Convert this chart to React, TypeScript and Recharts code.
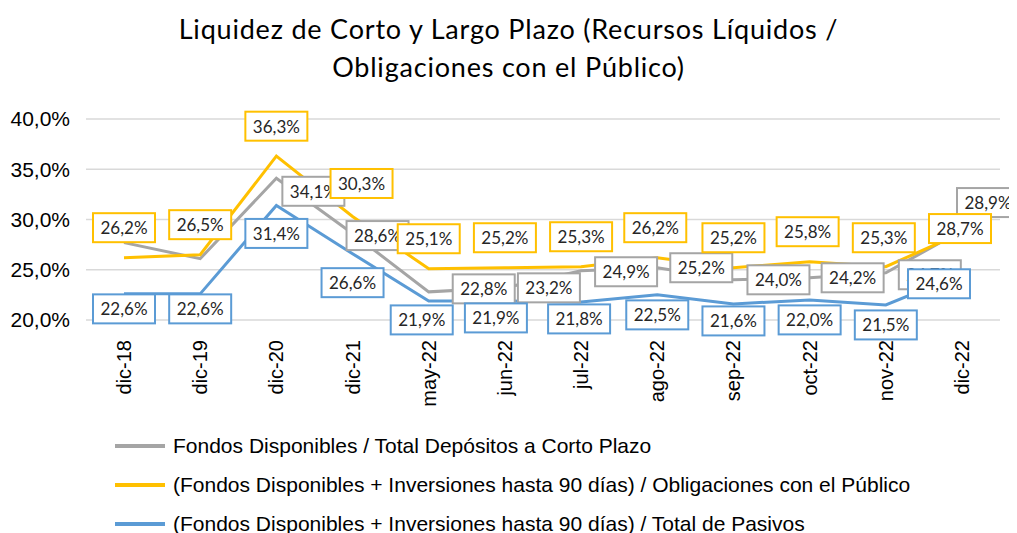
import React from "react";
import {
  LineChart,
  Line,
  CartesianGrid,
  XAxis,
  YAxis,
  Legend,
  LabelList,
} from "recharts";

const categories = [
  "dic-18", "dic-19", "dic-20", "dic-21", "may-22", "jun-22",
  "jul-22", "ago-22", "sep-22", "oct-22", "nov-22", "dic-22",
];

// Fondos Disponibles / Total Depósitos a Corto Plazo
const grayValues = [27.7, 26.1, 34.1, 28.6, 22.8, 23.2, 24.9, 25.2, 24.0, 24.2, 24.7, 28.9];
// (Fondos Disponibles + Inversiones hasta 90 días) / Obligaciones con el Público
const yellowValues = [26.2, 26.5, 36.3, 30.3, 25.1, 25.2, 25.3, 26.2, 25.2, 25.8, 25.3, 28.7];
// (Fondos Disponibles + Inversiones hasta 90 días) / Total de Pasivos
const blueValues = [22.6, 22.6, 31.4, 26.6, 21.9, 21.9, 21.8, 22.5, 21.6, 22.0, 21.5, 24.6];

const yTicks = [20, 25, 30, 35, 40];

const GRAY = "#A5A5A5";
const YELLOW = "#FFC000";
const BLUE = "#5B9BD5";

const series = [
  { key: "gray", name: "Fondos Disponibles / Total Depósitos a Corto Plazo", color: GRAY },
  { key: "yellow", name: "(Fondos Disponibles + Inversiones hasta 90 días) / Obligaciones con el Público", color: YELLOW },
  { key: "blue", name: "(Fondos Disponibles + Inversiones hasta 90 días) / Total de Pasivos", color: BLUE },
];

// label nudges (dx, dy) from the point, like the hand-placed excel labels; null = hidden
const grayNudge: ([number, number] | null)[] = [
  null, null, [37, 13], [25, 2], [55, -3], [44, 0], [45, 1], [44, 0], [45, 0], [43, 0], [44, 2], [26, -28],
];
const yellowNudge: ([number, number] | null)[] = [
  [0, -30], [0, -30], [0, -30], [9, -33], [0, -30], [0, -30], [0, -30], [-2, -30], [0, -30], [-2, -30], [-2, -29], [-2, -4],
];
const blueNudge: ([number, number] | null)[] = [
  [0, 15], [0, 15], [0, 28], [0, 29], [-7, 19], [-9, 17], [-2, 17], [0, 20], [0, 17], [0, 20], [0, 20], [-23, 10],
];

const data = categories.map((cat, i) => ({
  cat,
  gray: grayValues[i],
  yellow: yellowValues[i],
  blue: blueValues[i],
}));

const fmt = (v: number) => v.toFixed(1).replace(".", ",") + "%";

const makeLabel = (color: string, nudges: ([number, number] | null)[]) => (props: any) => {
  const { x, y, value, index } = props;
  const n = nudges[index];
  if (!n || value == null) return null;
  const cx = Number(x) + n[0];
  const cy = Number(y) + n[1];
  return (
    <g>
      <rect x={cx - 31} y={cy - 14.5} width={62} height={29} fill="#fff" stroke={color} strokeWidth={2} />
      <text
        x={cx}
        y={cy}
        textAnchor="middle"
        dominantBaseline="central"
        fontFamily="Lato, 'Liberation Sans', sans-serif"
        fontSize={17}
        fill="#262626"
      >
        {fmt(Number(value))}
      </text>
    </g>
  );
};

const XTick = (props: any) => {
  const { x, y, payload } = props;
  return (
    <text
      transform={`translate(${x},${y + 12}) rotate(-90)`}
      textAnchor="end"
      dominantBaseline="central"
      fontFamily="'Liberation Sans', Arial, sans-serif"
      fontSize={20}
      fill="#000"
    >
      {payload.value}
    </text>
  );
};

const LegendContent = () => (
  <div style={{ fontFamily: "'Liberation Sans', Arial, sans-serif", fontSize: 21, color: "#000" }}>
    {series.map((s) => (
      <div key={s.key} style={{ display: "flex", alignItems: "center", height: 39, whiteSpace: "nowrap" }}>
        <span style={{ display: "inline-block", width: 50, height: 4, background: s.color, marginRight: 8 }} />
        {s.name}
      </div>
    ))}
  </div>
);

export default function App() {
  return (
    <div style={{ position: "relative", width: 1001, height: 525, overflow: "hidden" }}>
      <div
        style={{
          position: "absolute",
          top: 2,
          left: 0,
          width: 1001,
          textAlign: "center",
          fontFamily: "Lato, 'Open Sans', sans-serif",
          fontSize: 27,
          letterSpacing: 0.8,
          lineHeight: "38px",
          color: "#000",
          zIndex: 2,
        }}
      >
        Liquidez de Corto y Largo Plazo (Recursos Líquidos /
        <br />
        Obligaciones con el Público)
      </div>
      <LineChart
        width={1001}
        height={525}
        data={data}
        margin={{ top: 111, right: 9, left: 0, bottom: 113 }}
      >
        <CartesianGrid vertical={false} stroke="#D9D9D9" strokeWidth={1.5} />
        <XAxis
          dataKey="cat"
          interval={0}
          axisLine={false}
          tickLine={false}
          height={100}
          padding={{ left: 38, right: 38 }}
          tick={<XTick />}
        />
        <YAxis
          domain={[20, 40]}
          ticks={yTicks}
          width={78}
          axisLine={false}
          tickLine={false}
          tickMargin={10}
          tickFormatter={fmt}
          tick={{ fontFamily: "'Liberation Sans', Arial, sans-serif", fontSize: 21, fill: "#000" }}
        />
        <Legend
          layout="vertical"
          align="center"
          verticalAlign="middle"
          wrapperStyle={{ top: 418, left: 107, width: 880 }}
          content={<LegendContent />}
        />
        <Line type="linear" dataKey="gray" name={series[0].name} stroke={GRAY} strokeWidth={3} dot={false} isAnimationActive={false} />
        <Line type="linear" dataKey="yellow" name={series[1].name} stroke={YELLOW} strokeWidth={3} dot={false} isAnimationActive={false} />
        <Line type="linear" dataKey="blue" name={series[2].name} stroke={BLUE} strokeWidth={3} dot={false} isAnimationActive={false} />
        {/* label-only series so every box sits above every line */}
        <Line type="linear" dataKey="gray" stroke="none" dot={false} activeDot={false} legendType="none" isAnimationActive={false}>
          <LabelList dataKey="gray" content={makeLabel(GRAY, grayNudge)} />
        </Line>
        <Line type="linear" dataKey="yellow" stroke="none" dot={false} activeDot={false} legendType="none" isAnimationActive={false}>
          <LabelList dataKey="yellow" content={makeLabel(YELLOW, yellowNudge)} />
        </Line>
        <Line type="linear" dataKey="blue" stroke="none" dot={false} activeDot={false} legendType="none" isAnimationActive={false}>
          <LabelList dataKey="blue" content={makeLabel(BLUE, blueNudge)} />
        </Line>
      </LineChart>
    </div>
  );
}
